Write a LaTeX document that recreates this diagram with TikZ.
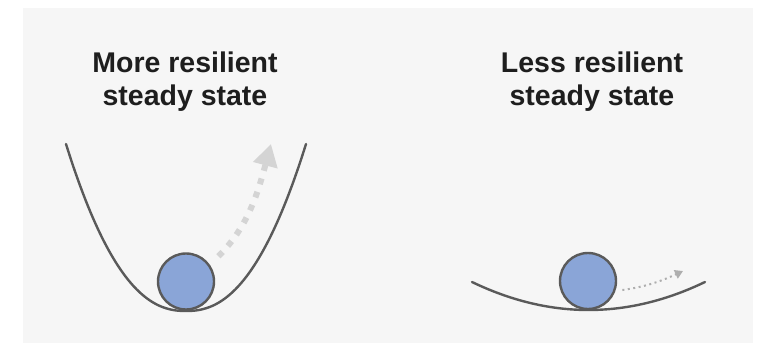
\documentclass[tikz,border=0pt]{standalone}
\usepackage{fontspec}
\setmainfont{Liberation Sans}
\usetikzlibrary{arrows.meta}
\definecolor{bgc}{HTML}{F6F6F6}
\definecolor{curvec}{HTML}{5A5A5A}
\definecolor{ballc}{RGB}{138,165,215}
\definecolor{arrl}{HTML}{D4D4D4}
\definecolor{arrr}{HTML}{AEAEAE}
\definecolor{txtc}{HTML}{1E1E1E}
\begin{document}
\begin{tikzpicture}[x=1pt,y=1pt,
  title/.style={align=center,text=txtc,font=\fontsize{28.5}{33}\selectfont\bfseries,inner sep=0pt},
  basin/.style={draw=curvec,line width=2.4pt,line cap=round},
  ball/.style={circle,draw=curvec,fill=ballc,line width=2.4pt,minimum size=56pt,inner sep=0pt},
  bigpush/.style={draw=arrl,line width=6pt,dash pattern=on 6pt off 8pt,-{Triangle[width=24pt,length=22pt]}},
  smallpush/.style={draw=arrr,line width=2pt,dash pattern=on 2pt off 3.5pt,-{Triangle[width=9pt,length=8pt]}}
]
\useasboundingbox (0,0) rectangle (758,343);
\fill[bgc] (23,0) rectangle (753,335);

% titles
\node[title] (t1) at (185,261) {More resilient\\steady state};
\node[title] (t2) at (592,261) {Less resilient\\steady state};

% left basin
\draw[basin] plot[domain=-120:120,samples=90,smooth] ({186+\x},{32+167*pow(abs(\x)/120,2.3)});
\node[ball] (ballL) at (186,61.5) {};
\coordinate (tipL) at (271,199);
\draw[bigpush,shorten <=12pt] (ballL.35) to[out=45,in=255] (tipL);

% right basin
\draw[basin] plot[domain=-116.5:116.5,samples=60,smooth] ({588.5+\x},{33+28*(\x/116.5)^2});
\node[ball] (ballR) at (588,62) {};
\coordinate (tipR) at (683,72);
\draw[smallpush,shorten <=7pt] (ballR.-20) to[out=8,in=205] (tipR);
\end{tikzpicture}
\end{document}
